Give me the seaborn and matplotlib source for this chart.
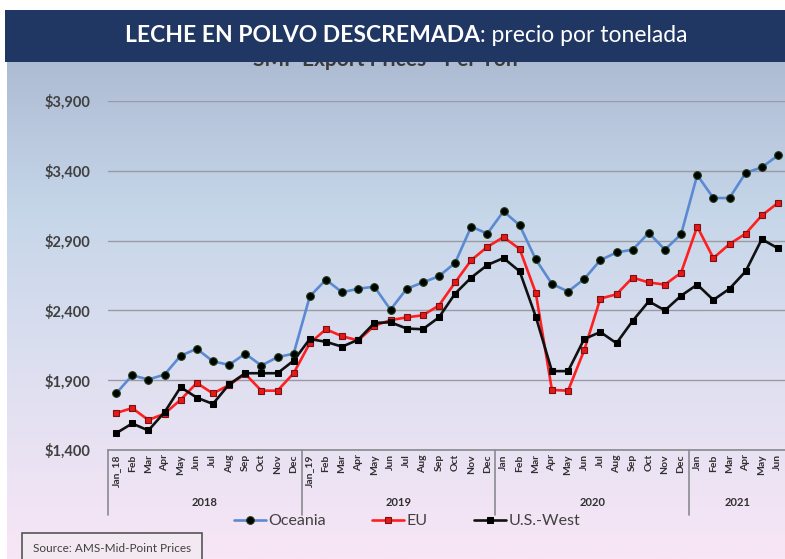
import numpy as np
import pandas as pd
import matplotlib
matplotlib.use("Agg")
import matplotlib.pyplot as plt
import seaborn as sns
from matplotlib.colors import LinearSegmentedColormap
from matplotlib.patches import Rectangle
import matplotlib.transforms as mtransforms

months = ["Jan_18", "Feb", "Mar", "Apr", "May", "Jun", "Jul", "Aug", "Sep", "Oct", "Nov", "Dec",
          "Jan_19", "Feb", "Mar", "Apr", "May", "Jun", "Jul", "Aug", "Sep", "Oct", "Nov", "Dec",
          "Jan", "Feb", "Mar", "Apr", "May", "Jun", "Jul", "Aug", "Sep", "Oct", "Nov", "Dec",
          "Jan", "Feb", "Mar", "Apr", "May", "Jun"]
years = ["2018", "2019", "2020", "2021"]
year_len = [12, 12, 12, 6]

oceania = [1805, 1935, 1905, 1940, 2075, 2125, 2035, 2010, 2090, 2005, 2065, 2090,
           2500, 2620, 2530, 2555, 2570, 2405, 2555, 2600, 2645, 2740, 3000, 2950,
           3110, 3010, 2765, 2590, 2535, 2625, 2760, 2815, 2835, 2955, 2835, 2945,
           3370, 3205, 3205, 3385, 3425, 3510]
eu = [1665, 1700, 1615, 1660, 1760, 1880, 1805, 1865, 1945, 1825, 1825, 1950,
      2165, 2265, 2215, 2185, 2290, 2330, 2350, 2365, 2435, 2600, 2760, 2855,
      2925, 2840, 2525, 1830, 1825, 2115, 2485, 2515, 2635, 2600, 2585, 2670,
      3000, 2775, 2875, 2950, 3080, 3170]
us_west = [1520, 1590, 1540, 1670, 1850, 1775, 1730, 1870, 1950, 1950, 1950, 2040,
           2195, 2175, 2140, 2190, 2310, 2315, 2270, 2265, 2350, 2520, 2635, 2725,
           2775, 2680, 2355, 1965, 1965, 2195, 2245, 2165, 2325, 2465, 2400, 2505,
           2585, 2475, 2555, 2680, 2910, 2845]

sns.set_style("white")
plt.rcParams["font.family"] = ["Lato", "DejaVu Sans"]

W, H = 785, 559
fig = plt.figure(figsize=(W / 100, H / 100), dpi=100)

# gradient background below the banner
bg = fig.add_axes([7 / W, 0, (W - 7) / W, (H - 62) / H])
grad_cmap = LinearSegmentedColormap.from_list(
    "bg", [(0, "#aebcd3"), (0.3, "#c6d6e9"), (0.6, "#dcdff0"), (1, "#f8e6f6")])
bg.imshow(np.linspace(0, 1, 256).reshape(-1, 1), aspect="auto", cmap=grad_cmap,
          extent=[0, 1, 0, 1], origin="upper")
bg.set_axis_off()

# half-hidden original subtitle
fig.text(385 / W, 1 - 66 / H, "SMP Export Prices - Per Ton", ha="center", va="baseline",
         fontsize=15, fontweight="bold", color="#3a3a3a", zorder=1)

# banner
fig.patches.append(Rectangle((5 / W, 1 - 62 / H), (W - 5) / W, 52 / H, transform=fig.transFigure,
                             facecolor="#213763", edgecolor="none", zorder=5))

ax = fig.add_axes([108 / W, 1 - 450 / H, (786 - 108) / W, (450 - 101) / H])
ax.patch.set_alpha(0)

idx = np.arange(len(months))
df = pd.DataFrame({"idx": idx, "Oceania": oceania, "EU": eu, "U.S.-West": us_west})

sns.lineplot(data=df, x="idx", y="Oceania", ax=ax, color="#5b8ad3", lw=1.9, marker="o",
             markersize=5.5, markerfacecolor="black", markeredgecolor="#1a3a10",
             markeredgewidth=0.8, label="Oceania")
sns.lineplot(data=df, x="idx", y="EU", ax=ax, color="#ff1f1f", lw=1.9, marker="s",
             markersize=5, markerfacecolor="#e81818", markeredgecolor="#7a1010",
             markeredgewidth=0.8, label="EU")
sns.lineplot(data=df, x="idx", y="U.S.-West", ax=ax, color="#111111", lw=1.9, marker="s",
             markersize=5, markerfacecolor="black", markeredgecolor="black",
             label="U.S.-West")

ax.set_xlim(-0.5, len(months) - 0.5)
ax.set_ylim(1400, 3900)
ax.set_yticks(np.arange(1400, 3901, 500))
ax.set_yticklabels([f"${v:,.0f}" for v in np.arange(1400, 3901, 500)],
                   fontsize=10.5, fontweight="bold", color="#404040")
ax.set_xticks(idx)
ax.set_xticklabels(months, rotation=90, fontsize=7.5, fontweight="bold", color="#303030", va="top")
ax.tick_params(axis="both", length=0)
ax.tick_params(axis="y", pad=13)
ax.tick_params(axis="x", pad=3)
ax.set_xlabel("")
ax.set_ylabel("")
ax.grid(axis="y", color="#9a9aa4", lw=1)
ax.set_axisbelow(True)
for s in ["top", "right", "left"]:
    ax.spines[s].set_visible(False)
ax.spines["bottom"].set_color("#8a8a90")
ax.spines["bottom"].set_linewidth(1.2)

# year group separators and labels
trans = mtransforms.blended_transform_factory(ax.transData, ax.transAxes)
y_low = -(515 - 450) / (450 - 101)
start = 0
for yr, n in zip(years, year_len):
    ax.plot([start - 0.5, start - 0.5], [0, y_low], transform=trans, color="#8a8a90",
            lw=1.2, clip_on=False)
    ax.text(start + (n - 1) / 2, -(503 - 450) / (450 - 101), yr, transform=trans,
            ha="center", va="center", fontsize=8, fontweight="bold", color="#303030")
    start += n

leg = ax.legend(loc="center", bbox_to_anchor=(407 / W, 1 - 521 / H),
                bbox_transform=fig.transFigure, ncol=3, frameon=False, fontsize=11.5,
                handlelength=2.0, columnspacing=2.9, handletextpad=0.15)
for t in leg.get_texts():
    t.set_color("#404040")

# title with bold and regular parts
fig.canvas.draw()
r = fig.canvas.get_renderer()
t1 = fig.text(0, 1 - 36 / H, "LECHE EN POLVO DESCREMADA", fontsize=16.5, fontweight="bold",
              color="white", va="center", zorder=6)
t2 = fig.text(0, 1 - 36 / H, ": precio por tonelada", fontsize=16.5, color="white",
              va="center", zorder=6)
w1 = t1.get_window_extent(r).width
w2 = t2.get_window_extent(r).width
x0 = 406 - (w1 + w2) / 2
t1.set_x(x0 / W)
t2.set_x((x0 + w1) / W)

fig.text(33 / W, 1 - 549 / H, "Source: AMS-Mid-Point Prices", fontsize=8.5, color="#404040",
         va="center", ha="left",
         bbox=dict(boxstyle="square,pad=0.9", facecolor="#f3e9f2", edgecolor="#555555", lw=1.2))

fig.savefig("out.png", dpi=100)
